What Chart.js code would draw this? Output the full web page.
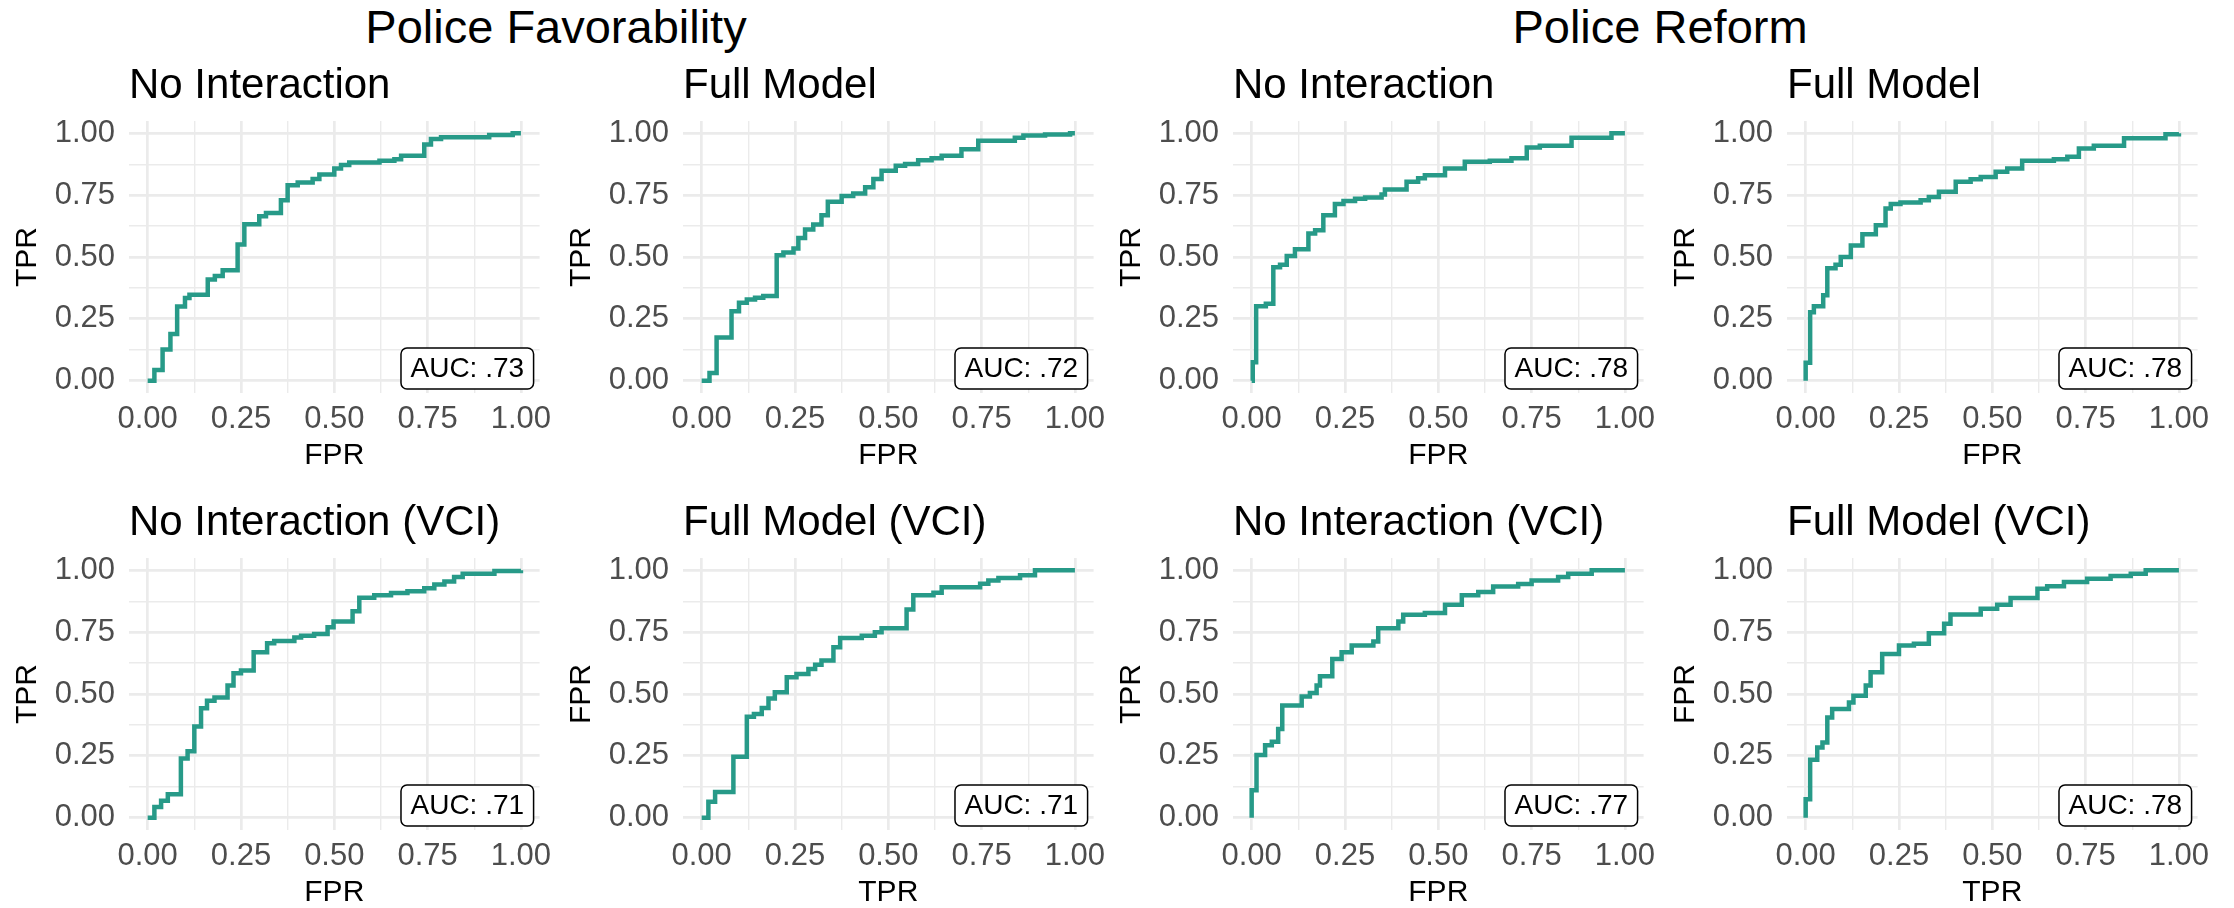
<!DOCTYPE html>
<html>
<head>
<meta charset="utf-8">
<title>ROC curves</title>
<script src="https://cdn.jsdelivr.net/npm/chart.js@4.4.1/dist/chart.umd.min.js"></script>
<style>
  body {
    margin: 0;
    background: #fff;
    width: 2234px;
    height: 908px;
    position: relative;
    overflow: hidden;
    font-family: "Liberation Sans", Arial, sans-serif;
  }
  .group-title {
    position: absolute;
    font-size: 47px;
    line-height: 47px;
    color: #000;
    white-space: nowrap;
    transform: translateX(-50%);
  }
  canvas { position: absolute; }
</style>
</head>
<body>
<div class="group-title" id="gt0" style="left:556px; top:3px"></div>
<div class="group-title" id="gt1" style="left:1660px; top:3px"></div>

<script>
// ROC points per model (false positive rate, true positive rate)
const favNoIntFpr = [0, 0.018, 0.040, 0.061, 0.079, 0.100, 0.112, 0.161, 0.180, 0.201, 0.241, 0.259, 0.299, 0.317, 0.357, 0.375, 0.402, 0.442, 0.460, 0.500, 0.518, 0.540, 0.621, 0.661, 0.679, 0.741, 0.759, 0.786, 0.915, 0.978, 1];
const favNoIntTpr = [0, 0.043, 0.126, 0.189, 0.300, 0.334, 0.347, 0.409, 0.423, 0.446, 0.551, 0.632, 0.665, 0.678, 0.730, 0.790, 0.801, 0.815, 0.834, 0.858, 0.872, 0.882, 0.889, 0.895, 0.909, 0.955, 0.977, 0.984, 0.993, 1.000, 1];

const favFullFpr = [0, 0.021, 0.040, 0.080, 0.100, 0.121, 0.143, 0.165, 0.201, 0.219, 0.246, 0.259, 0.277, 0.299, 0.321, 0.338, 0.375, 0.406, 0.438, 0.460, 0.482, 0.520, 0.545, 0.580, 0.616, 0.643, 0.696, 0.741, 0.839, 0.862, 0.920, 0.987, 1];
const favFullTpr = [0, 0.031, 0.174, 0.281, 0.315, 0.328, 0.335, 0.342, 0.507, 0.518, 0.534, 0.577, 0.611, 0.631, 0.669, 0.723, 0.747, 0.757, 0.782, 0.815, 0.849, 0.869, 0.876, 0.891, 0.899, 0.909, 0.936, 0.970, 0.982, 0.991, 0.995, 1.000, 1];

const refNoIntFpr = [0, 0.003, 0.012, 0.038, 0.058, 0.076, 0.094, 0.116, 0.152, 0.170, 0.192, 0.223, 0.246, 0.277, 0.304, 0.348, 0.357, 0.415, 0.446, 0.464, 0.518, 0.571, 0.638, 0.696, 0.737, 0.772, 0.857, 0.964, 1];
const refNoIntTpr = [0, 0.074, 0.301, 0.311, 0.459, 0.469, 0.504, 0.531, 0.595, 0.608, 0.669, 0.714, 0.726, 0.736, 0.741, 0.753, 0.773, 0.804, 0.818, 0.831, 0.858, 0.885, 0.889, 0.899, 0.943, 0.950, 0.982, 1.000, 1];

const refFullFpr = [0, 0, 0.012, 0.022, 0.047, 0.058, 0.080, 0.094, 0.121, 0.152, 0.188, 0.214, 0.228, 0.254, 0.308, 0.330, 0.357, 0.402, 0.442, 0.469, 0.509, 0.540, 0.580, 0.665, 0.701, 0.732, 0.772, 0.853, 0.964, 1];
const refFullTpr = [0, 0.072, 0.277, 0.301, 0.345, 0.455, 0.469, 0.500, 0.547, 0.592, 0.628, 0.696, 0.714, 0.720, 0.730, 0.743, 0.764, 0.804, 0.814, 0.824, 0.845, 0.858, 0.889, 0.895, 0.905, 0.939, 0.950, 0.980, 0.996, 1];

const favNoIntVciFpr = [0, 0.018, 0.036, 0.054, 0.089, 0.107, 0.125, 0.143, 0.159, 0.179, 0.214, 0.230, 0.250, 0.284, 0.320, 0.339, 0.393, 0.411, 0.446, 0.482, 0.498, 0.549, 0.567, 0.607, 0.652, 0.696, 0.741, 0.768, 0.795, 0.821, 0.844, 0.929, 1];
const favNoIntVciTpr = [0, 0.043, 0.068, 0.095, 0.239, 0.268, 0.369, 0.442, 0.473, 0.486, 0.534, 0.584, 0.595, 0.669, 0.705, 0.714, 0.728, 0.736, 0.743, 0.770, 0.793, 0.835, 0.889, 0.899, 0.908, 0.916, 0.928, 0.943, 0.955, 0.973, 0.986, 0.997, 1];

const favFullVciFpr = [0, 0.018, 0.036, 0.085, 0.121, 0.140, 0.161, 0.179, 0.196, 0.228, 0.254, 0.286, 0.304, 0.321, 0.353, 0.371, 0.429, 0.464, 0.482, 0.549, 0.567, 0.621, 0.643, 0.746, 0.768, 0.795, 0.853, 0.893, 1];
const favFullVciTpr = [0, 0.064, 0.104, 0.246, 0.408, 0.419, 0.443, 0.482, 0.507, 0.568, 0.581, 0.601, 0.618, 0.635, 0.689, 0.726, 0.736, 0.750, 0.766, 0.842, 0.899, 0.909, 0.932, 0.946, 0.959, 0.969, 0.980, 1.000, 1];

const refNoIntVciFpr = [0, 0, 0.013, 0.036, 0.054, 0.071, 0.082, 0.134, 0.156, 0.174, 0.183, 0.216, 0.241, 0.268, 0.326, 0.339, 0.393, 0.406, 0.464, 0.518, 0.563, 0.607, 0.647, 0.714, 0.750, 0.821, 0.848, 0.911, 1];
const refNoIntVciTpr = [0, 0.111, 0.253, 0.293, 0.307, 0.358, 0.453, 0.490, 0.504, 0.534, 0.572, 0.642, 0.669, 0.696, 0.712, 0.766, 0.793, 0.820, 0.828, 0.861, 0.899, 0.912, 0.935, 0.945, 0.959, 0.973, 0.986, 1.000, 1];

const refFullVciFpr = [0, 0, 0.012, 0.031, 0.045, 0.058, 0.071, 0.116, 0.128, 0.161, 0.174, 0.205, 0.250, 0.290, 0.330, 0.371, 0.388, 0.469, 0.513, 0.549, 0.621, 0.647, 0.692, 0.754, 0.817, 0.871, 0.911, 1];
const refFullVciTpr = [0, 0.074, 0.234, 0.284, 0.304, 0.405, 0.439, 0.466, 0.493, 0.534, 0.588, 0.662, 0.696, 0.703, 0.746, 0.784, 0.822, 0.845, 0.861, 0.888, 0.926, 0.936, 0.953, 0.966, 0.977, 0.986, 1.000, 1];

const groupTitles = ["Police Favorability", "Police Reform"];
const panelTitles = ["No Interaction", "Full Model", "No Interaction", "Full Model",
                     "No Interaction (VCI)", "Full Model (VCI)", "No Interaction (VCI)", "Full Model (VCI)"];
const aucLabels = [".73", ".72", ".78", ".78", ".71", ".71", ".77", ".78"];
const xTitles = ["FPR", "FPR", "FPR", "FPR", "FPR", "TPR", "FPR", "TPR"];
const yTitles = ["TPR", "TPR", "TPR", "TPR", "TPR", "FPR", "TPR", "FPR"];

const tickValues = [0, 0.25, 0.5, 0.75, 1];
const tickLabels = ["0.00", "0.25", "0.50", "0.75", "1.00"];
const minorValues = [0.125, 0.375, 0.625, 0.875];

const curves = [
  [favNoIntFpr, favNoIntTpr], [favFullFpr, favFullTpr],
  [refNoIntFpr, refNoIntTpr], [refFullFpr, refFullTpr],
  [favNoIntVciFpr, favNoIntVciTpr], [favFullVciFpr, favFullVciTpr],
  [refNoIntVciFpr, refNoIntVciTpr], [refFullVciFpr, refFullVciTpr]
];

const FONT = '"Liberation Sans", Arial, sans-serif';
const LINE_COLOR = "#279A88";
const GRID_COLOR = "#EBEBEB";

// canvas placement for the 4x2 grid
const colLeft = [0, 554, 1104, 1658];
const rowTop = [61, 498];
const CANVAS_W = 560, CANVAS_H = 413;

document.getElementById("gt0").textContent = groupTitles[0];
document.getElementById("gt1").textContent = groupTitles[1];

// panel title above the plot area and the boxed AUC label in the corner
const panelDecor = {
  id: "panelDecor",
  afterDraw(chart, args, opts) {
    const { ctx, chartArea } = chart;
    ctx.save();
    ctx.fillStyle = "#000";
    ctx.font = "42px " + FONT;
    ctx.textAlign = "left";
    ctx.textBaseline = "alphabetic";
    ctx.fillText(opts.title, chartArea.left, chartArea.top - 23);

    ctx.font = "28px " + FONT;
    const text = "AUC: " + opts.auc;
    const w = ctx.measureText(text).width + 19;
    const h = 41;
    const x = chartArea.right - 6 - w;
    const y = chartArea.bottom - 4 - h;
    ctx.beginPath();
    ctx.roundRect(x, y, w, h, 6);
    ctx.fillStyle = "#fff";
    ctx.fill();
    ctx.lineWidth = 1.5;
    ctx.strokeStyle = "#000";
    ctx.stroke();
    ctx.fillStyle = "#000";
    ctx.textAlign = "center";
    ctx.textBaseline = "middle";
    ctx.fillText(text, x + w / 2, y + h / 2 + 1);
    ctx.restore();
  }
};

function axis(title, isX) {
  return {
    type: "linear",
    min: -0.05,
    max: 1.05,
    border: { display: false },
    afterBuildTicks: (scale) => {
      scale.ticks = tickValues.concat(minorValues)
        .sort((a, b) => a - b)
        .map(v => ({ value: v }));
    },
    afterFit: (scale) => {
      if (isX) scale.height = 81;
      else scale.width = 129;
    },
    grid: {
      color: GRID_COLOR,
      lineWidth: (c) => tickValues.includes(c.tick.value) ? 2.7 : 1.4,
      drawTicks: false
    },
    ticks: {
      autoSkip: false,
      maxRotation: 0,
      padding: isX ? 8 : 14,
      color: "#4D4D4D",
      font: { family: FONT, size: 31 },
      callback: (value) => {
        const i = tickValues.indexOf(value);
        return i >= 0 ? tickLabels[i] : "";
      }
    },
    title: {
      display: true,
      text: title,
      color: "#000",
      font: { family: FONT, size: 30 },
      padding: isX ? { top: 0, bottom: 0 } : { top: 10, bottom: 0 }
    }
  };
}

curves.forEach(([fpr, tpr], i) => {
  const canvas = document.createElement("canvas");
  canvas.width = CANVAS_W;
  canvas.height = CANVAS_H;
  canvas.style.left = colLeft[i % 4] + "px";
  canvas.style.top = rowTop[Math.floor(i / 4)] + "px";
  document.body.appendChild(canvas);

  new Chart(canvas.getContext("2d"), {
    type: "line",
    data: {
      datasets: [{
        data: fpr.map((x, k) => ({ x: x, y: tpr[k] })),
        borderColor: LINE_COLOR,
        borderWidth: 4.5,
        pointRadius: 0,
        stepped: "before",
        fill: false,
        borderJoinStyle: "miter",
        borderCapStyle: "butt"
      }]
    },
    options: {
      responsive: false,
      animation: false,
      layout: { padding: { top: 60, right: 20, left: 0, bottom: 0 } },
      plugins: {
        legend: { display: false },
        tooltip: { enabled: false },
        panelDecor: { title: panelTitles[i], auc: aucLabels[i] }
      },
      scales: {
        x: axis(xTitles[i], true),
        y: axis(yTitles[i], false)
      }
    },
    plugins: [panelDecor]
  });
});
</script>
</body>
</html>
